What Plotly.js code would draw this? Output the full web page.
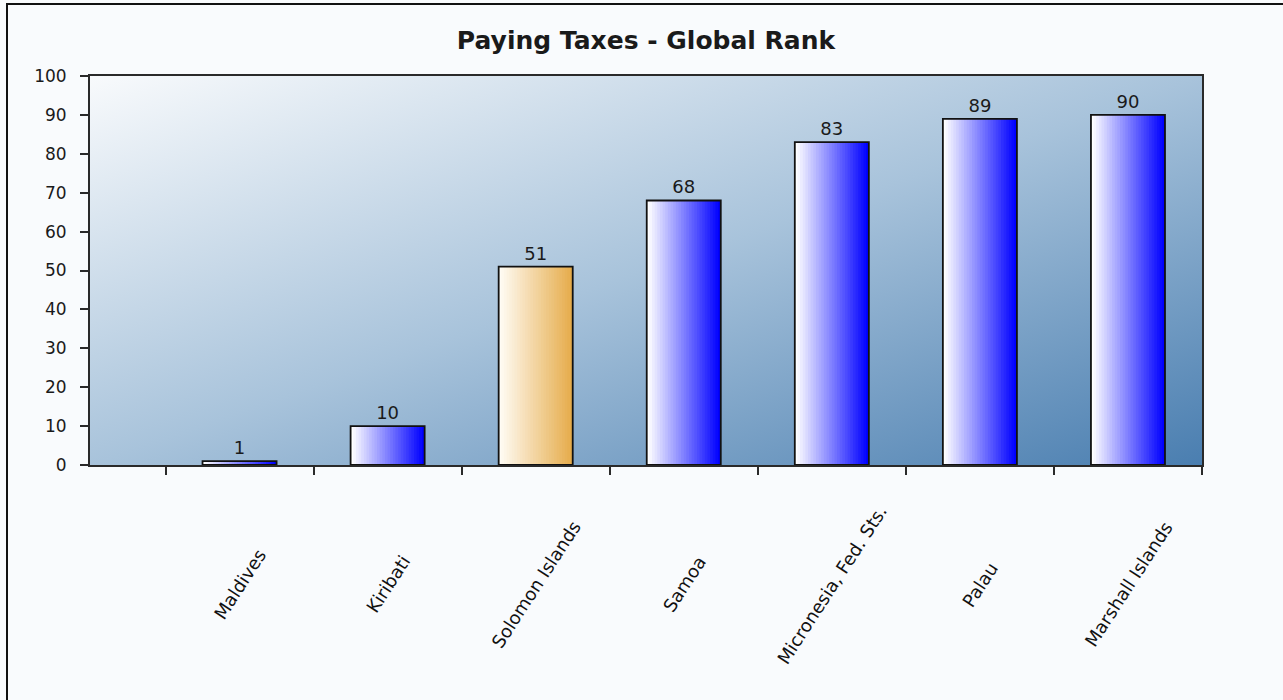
<!DOCTYPE html>
<html>
<head>
<meta charset="utf-8">
<script src="https://cdn.plot.ly/plotly-3.0.1.min.js"></script>
<style>
  html, body { margin: 0; padding: 0; background: #F9FBFD; }
  #chart { width: 1283px; height: 700px; }
</style>
</head>
<body>
<div id="chart"></div>
<script>
// ---- data ----
const categories = ["Maldives", "Kiribati", "Solomon Islands", "Samoa", "Micronesia, Fed. Sts.", "Palau", "Marshall Islands"];
const values = [1, 10, 51, 68, 83, 89, 90];
const highlighted = "Solomon Islands";
const yTicks = [0, 10, 20, 30, 40, 50, 60, 70, 80, 90, 100];
const chartTitle = "Paying Taxes - Global Rank";

// ---- styling ----
const FONT = "DejaVu Sans, Verdana, sans-serif";
const W = 0.5;          // bar width in category units
const N = 28;           // gradient strips
const idx = categories.map((_, i) => i);
const boundaries = categories.map((_, i) => i - 0.5).concat([categories.length - 0.5]);

function hex(c) { return [parseInt(c.slice(1,3),16), parseInt(c.slice(3,5),16), parseInt(c.slice(5,7),16)]; }
function mix(a, b, t) {
  const A = hex(a), B = hex(b);
  return "rgb(" + A.map((v, i) => Math.round(v + (B[i] - v) * t)).join(",") + ")";
}
const blueStops = ["#FFFFFF", "#0000FF"];
const orangeStops = ["#FFFCF4", "#E6AC4C"];

const traces = [];
for (let k = 0; k < N; k++) {
  const t = k / (N - 1);
  traces.push({
    type: "bar",
    x: idx,
    y: values,
    width: W * (1 - k / N),
    offset: -W / 2 + k * W / N,
    marker: {
      color: categories.map(c => c === highlighted ? mix(orangeStops[0], orangeStops[1], t) : mix(blueStops[0], blueStops[1], t)),
      line: { width: 0 }
    },
    hoverinfo: "skip",
    showlegend: false
  });
}
// outline + value labels
traces.push({
  type: "bar",
  x: idx,
  y: values,
  width: W,
  text: values.map(String),
  textposition: "outside",
  textfont: { family: FONT, size: 18, color: "#1a1a1a" },
  cliponaxis: false,
  marker: { color: "rgba(0,0,0,0)", line: { color: "#111111", width: 1.8 } },
  showlegend: false
});

const svgBg = "<svg xmlns='http://www.w3.org/2000/svg' width='100' height='100' viewBox='0 0 100 100' preserveAspectRatio='none'>" +
  "<defs><linearGradient id='g' x1='0' y1='0' x2='1' y2='1'>" +
  "<stop offset='0' stop-color='#F8FAFC'/><stop offset='0.5' stop-color='#A8C3DB'/><stop offset='1' stop-color='#4A7EB0'/>" +
  "</linearGradient></defs><rect x='0' y='0' width='100' height='100' fill='url(#g)'/></svg>";
const bgSrc = "data:image/svg+xml;charset=utf-8," + encodeURIComponent(svgBg);

const mL = 90, mR = 81, mT = 76, mB = 235;
const plotW = 1283 - mL - mR, plotH = 700 - mT - mB;
const px2x = p => (p - mL) / plotW;
const py2y = p => (700 - mB - p) / plotH;

const annotations = categories.map((c, i) => ({
  x: i, xref: "x",
  y: py2y(584), yref: "paper",
  text: c,
  textangle: -57,
  showarrow: false,
  xanchor: "center", yanchor: "middle",
  font: { family: FONT, size: 18, color: "#111111" }
}));

const layout = {
  width: 1283, height: 700,
  margin: { l: mL, r: mR, t: mT, b: mB },
  paper_bgcolor: "#F9FBFD",
  plot_bgcolor: "#A8C3DB",
  barmode: "overlay",
  title: {
    text: "<b>" + chartTitle + "</b>",
    x: 0.5, xref: "paper",
    y: 1 - 40 / 700, yref: "container", yanchor: "middle",
    font: { family: FONT, size: 25, color: "#1a1a1a" }
  },
  xaxis: {
    range: [-1.01, categories.length - 0.5],
    tickmode: "array",
    tickvals: boundaries,
    showticklabels: false,
    ticks: "outside", ticklen: 8, tickwidth: 2, tickcolor: "#2a2a2a",
    showline: true, linecolor: "#2a2a2a", linewidth: 2, mirror: true,
    showgrid: false, zeroline: false, fixedrange: true
  },
  yaxis: {
    range: [0, 100],
    tickmode: "array",
    tickvals: yTicks,
    ticktext: yTicks.map(String),
    ticks: "outside", ticklen: 8, tickwidth: 2, tickcolor: "#2a2a2a",
    ticklabelstandoff: 10,
    tickfont: { family: FONT, size: 17, color: "#1a1a1a" },
    showline: true, linecolor: "#2a2a2a", linewidth: 2, mirror: true,
    showgrid: false, zeroline: false, fixedrange: true
  },
  images: [{
    source: bgSrc, xref: "paper", yref: "paper",
    x: 0, y: 1, sizex: 1, sizey: 1,
    sizing: "stretch", xanchor: "left", yanchor: "top", layer: "below"
  }],
  annotations: annotations,
  shapes: [
    { type: "line", xref: "paper", yref: "paper", x0: px2x(7), x1: px2x(7), y0: py2y(3), y1: py2y(700), line: { color: "#111111", width: 2 } },
    { type: "line", xref: "paper", yref: "paper", x0: px2x(6), x1: px2x(1283), y0: py2y(4), y1: py2y(4), line: { color: "#111111", width: 2 } }
  ],
  showlegend: false
};

Plotly.newPlot("chart", traces, layout, { displayModeBar: false, staticPlot: true });
</script>
</body>
</html>
